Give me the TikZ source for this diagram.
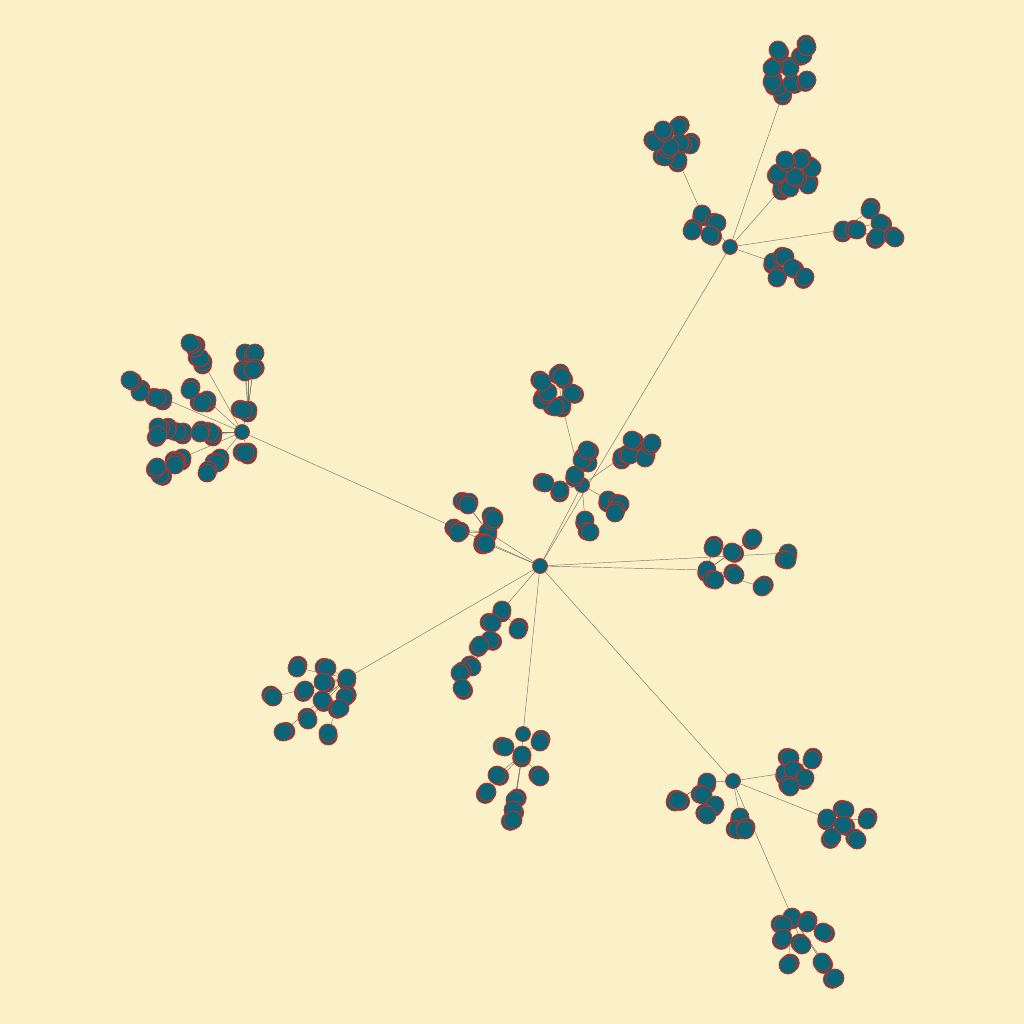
\documentclass[tikz,border=0pt]{standalone}
\usetikzlibrary{backgrounds}

\definecolor{paper}{RGB}{250,241,200}
\definecolor{petrol}{RGB}{11,101,118}
\definecolor{rim}{RGB}{214,40,30}
\definecolor{twig}{RGB}{120,118,105}

\begin{document}
\begin{tikzpicture}[
  x=1pt, y=-1pt,
  leaf/.style={circle, fill=petrol, draw=rim, line width=0.8pt,
               minimum size=18pt, inner sep=0pt},
  hub/.style={leaf, minimum size=15pt},
  edge/.style={line width=0.45pt, twig},
  twin/.style={leaf},
]
  \useasboundingbox (0,0) rectangle (1024,1024);
  \begin{scope}[on background layer]
    \fill[paper] (0,0) rectangle (1024,1024);
  \end{scope}

  % hubs
  \node[hub] (R)  at (540,566) {};
  \node[hub] (L)  at (242,432) {};
  \node[hub] (TR) at (730,247) {};
  \node[hub] (A)  at (582,485) {};
  \node[hub] (D)  at (523,734) {};
  \node[hub] (BR) at (733,781) {};

  % leaves, each with a slightly shifted twin behind it
  \foreach \g/\pts in {
      ra/{488/532,465/502,468/505,491/516,494/519,456/530,458/533},
      rb/{483/542,486/544},
      rc/{707/570,715/580,713/548,732/552,753/538,735/575,762/587},
      rd/{788/553,787/560},
      re/{347/678,327/668,297/668,323/682,305/690,273/697,345/697,322/700,340/708,308/720,283/732,328/733},
      rf/{502/610,492/623,518/630,490/640,480/645,472/667,460/673,462/688},
      rg/{522/755,505/747,540/742,497/775,487/792,540/777,515/800,513/810,513/820},
      la/{248/410,243/410,248/363,245/353,255/353,245/372,253/370},
      lb/{203/362,200/358,195/348,190/343},
      lc/{163/398,157/398,140/392,130/380},
      ld/{207/400,202/403,190/390},
      le/{183/432,177/432,167/430,158/427,158/435},
      lf/{213/434,210/432,200/433},
      lg/{182/458,177/461,175/465,160/475,157/467},
      lh/{220/458,217/463,207/473},
      li/{248/452,245/453},
      ta/{783/93,777/87,772/82,792/83,807/80,790/68,772/68,778/50,803/55,807/47},
      tb/{702/214,717/223,692/231,710/235},
      tc/{678/160,665/157,690/145,680/143,670/147,655/142,678/127,663/130},
      td/{782/188,790/188,808/185,795/177,778/173,812/168,800/160,785/160},
      te/{843/230,857/230,870/210,880/223,877/237,895/238},
      tf/{773/262,785/257,777/278,792/268,805/277},
      aa/{562/405,555/407,542/400,572/393,548/392,542/382,558/375,562/377},
      ab/{575/475,588/463,582/460,587/450},
      ac/{560/490,545/483},
      ad/{622/457,630/455,645/458,632/440,652/443},
      ae/{608/500,620/504,615/513},
      af/{585/520,590/532},
      ba/{707/782,703/795,675/802,678/800,715/805,707/815},
      bb/{740/817,738/830,745/830},
      bc/{785/773,790/758,812/760,793/770,805/778,790/787},
      bd/{827/818,845/810,867/820,843/825,832/837,857/840},
      be/{792/917,783/925,807/923,823/932,783/938,802/945,788/965,822/962,835/978}}
    \foreach \x/\y [count=\i] in \pts {
      \node[twin] (\g\i t) at ({\x+3*cos(97*\i)},{\y+3*sin(97*\i)}) {};
      \node[leaf] (\g\i) at (\x,\y) {};
    };

  % links
  \begin{scope}[on background layer]
    \foreach \a/\b in {R/L,R/TR,R/A,R/BR,R/D,R/ra1,R/rb1,R/rc1,R/rd1,R/re1,R/rf1,D/rg1,
                       L/la1,L/lb1,L/lc1,L/ld1,L/le1,L/lf1,L/lg1,L/lh1,L/li1,
                       TR/ta1,TR/tb1,TR/td1,TR/te1,TR/tf1,tb1/tc1,
                       A/aa1,A/ab1,A/ac1,A/ad1,A/ae1,A/af1,
                       BR/ba1,BR/bb1,BR/bc1,BR/bd1,BR/be1}
      \draw[edge] (\a) -- (\b);
    \foreach \g/\n in {ra/7,rb/2,rc/7,rd/2,re/12,rf/8,rg/9,la/7,lb/4,lc/4,ld/3,le/5,lf/3,lg/5,lh/3,li/2,
                       ta/10,tb/4,tc/8,td/8,te/6,tf/5,aa/8,ab/4,ac/2,ad/5,ae/3,af/2,
                       ba/6,bb/3,bc/6,bd/6,be/9}
      \foreach \i in {2,...,\n}
        \draw[edge] (\g1) -- (\g\i);
  \end{scope}
\end{tikzpicture}
\end{document}
